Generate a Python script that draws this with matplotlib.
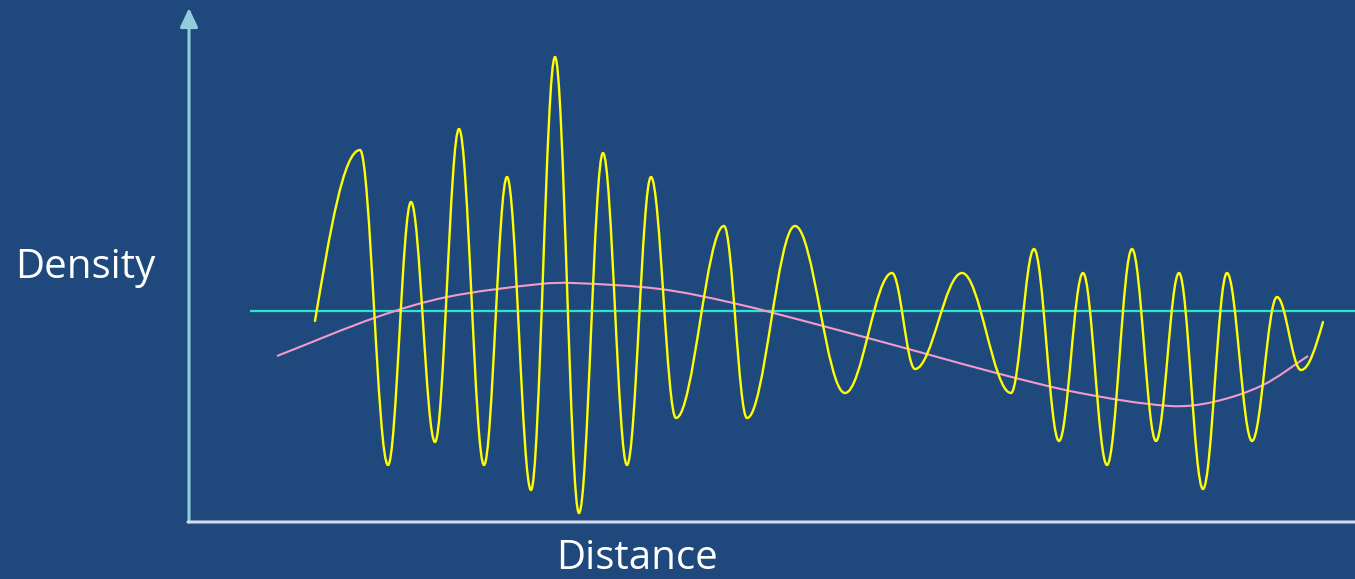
import matplotlib
matplotlib.use("Agg")
import matplotlib.pyplot as plt
from matplotlib.path import Path
from matplotlib.patches import PathPatch

# ---- data (distance, density) ----
wave_distance = [127, 172, 200, 223, 247, 271, 296, 319, 343, 367, 391, 415, 439, 463,
                 488, 536, 559, 607, 657, 704, 727, 774, 823, 846, 871, 895, 919, 944,
                 968, 991, 1015, 1039, 1064, 1089, 1113, 1135]
wave_density = [201, 372, 57, 320, 80, 393, 57, 345, 32, 465, 9, 369, 57, 345,
                104, 296, 104, 296, 129, 249, 153, 249, 129, 273, 81, 249, 57, 273,
                81, 249, 33, 249, 81, 225, 152, 200]

trend_distance = [89, 189, 259, 352, 385, 472, 545, 635, 735, 812, 892, 982, 1025, 1075, 1120]
trend_density = [166, 205, 225, 238, 239, 233, 219, 196, 169, 148, 129, 116, 120, 137, 166]

mean_density = 211
mean_start = 62

BG = "#1F497D"
fig = plt.figure(figsize=(13.55, 5.79), dpi=100, facecolor=BG)
ax = fig.add_axes([0, 0, 1, 1])
ax.set_facecolor(BG)
ax.set_xlim(-188, 1167)
ax.set_ylim(-57, 522)
ax.axis("off")

def wave_path(xs, ys):
    k = 0.364
    verts = [(xs[0], ys[0])]
    codes = [Path.MOVETO]
    n = len(xs)
    for i in range(n - 1):
        x0, y0, x1, y1 = xs[i], ys[i], xs[i + 1], ys[i + 1]
        dx, dy = x1 - x0, y1 - y0
        if i == 0:
            c1 = (x0 + dx / 3, y0 + 0.5236 * dy)
        else:
            c1 = (x0 + k * dx, y0)
        if i == n - 2:
            c2 = (x1 - dx / 3, y1 - 0.5236 * dy)
        else:
            c2 = (x1 - k * dx, y1)
        verts += [c1, c2, (x1, y1)]
        codes += [Path.CURVE4] * 3
    return Path(verts, codes)

def smooth_path(xs, ys):
    n = len(xs)
    m = []
    for i in range(n):
        a, b = max(i - 1, 0), min(i + 1, n - 1)
        m.append((ys[b] - ys[a]) / (xs[b] - xs[a]))
    verts = [(xs[0], ys[0])]
    codes = [Path.MOVETO]
    for i in range(n - 1):
        dx = xs[i + 1] - xs[i]
        c1 = (xs[i] + dx / 3, ys[i] + m[i] * dx / 3)
        c2 = (xs[i + 1] - dx / 3, ys[i + 1] - m[i + 1] * dx / 3)
        verts += [c1, c2, (xs[i + 1], ys[i + 1])]
        codes += [Path.CURVE4] * 3
    return Path(verts, codes)

# mean line
ax.plot([mean_start, 1167], [mean_density, mean_density], color="#2CE6C9", lw=1.6,
        solid_capstyle="butt", zorder=2)
# slow trend (pink)
ax.add_patch(PathPatch(smooth_path(trend_distance, trend_density), fill=False,
                       edgecolor="#F29BCB", lw=1.5, zorder=3))
# oscillating density (yellow)
ax.add_patch(PathPatch(wave_path(wave_distance, wave_density), fill=False,
                       edgecolor="#FFFF00", lw=1.7, zorder=4, capstyle="round"))

# axes arrows
ax.annotate("", xy=(1, 514), xytext=(1, 0), annotation_clip=False,
            arrowprops=dict(arrowstyle="-|>,head_length=1.15,head_width=0.54",
                            color="#93CDDD", lw=2.2, shrinkA=0, shrinkB=0), zorder=5)
ax.annotate("", xy=(1192, 0), xytext=(0, 0), annotation_clip=False,
            arrowprops=dict(arrowstyle="-|>,head_length=1.15,head_width=0.54",
                            color="#D5D8EE", lw=2.2, shrinkA=0, shrinkB=0), zorder=5)

ax.text(-173, 244, "Density", color="white", fontsize=29, family="Open Sans",
        ha="left", va="baseline")
ax.text(449, -47, "Distance", color="white", fontsize=29, family="Open Sans",
        ha="center", va="baseline")

fig.savefig("out.png", dpi=100, facecolor=BG)
